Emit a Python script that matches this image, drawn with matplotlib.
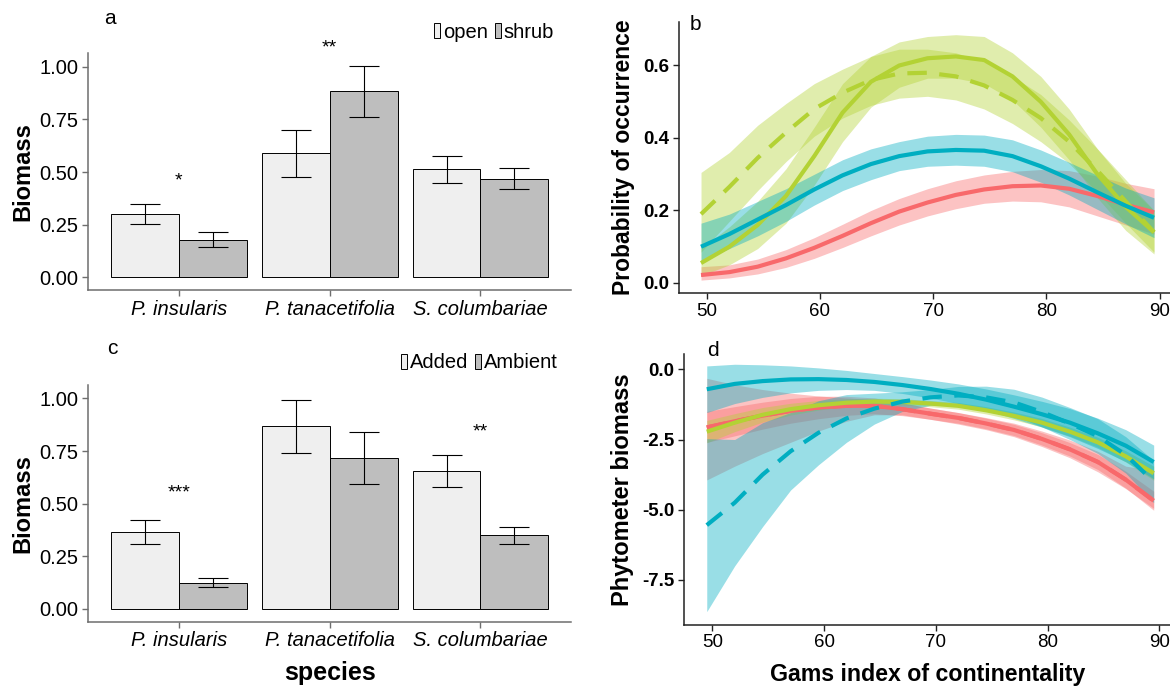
import matplotlib
matplotlib.use("Agg")
import matplotlib.pyplot as plt
from matplotlib.patches import Rectangle

plt.rcParams['font.family'] = ['Liberation Sans', 'DejaVu Sans']
plt.rcParams['lines.scale_dashes'] = False

# ---------------- data: bar panels ----------------
species = ["P. insularis", "P. tanacetifolia", "S. columbariae"]

a_groups = ["open", "shrub"]
a_open = [0.30, 0.59, 0.514]
a_open_lo = [0.255, 0.476, 0.448]
a_open_hi = [0.348, 0.70, 0.576]
a_shrub = [0.178, 0.886, 0.467]
a_shrub_lo = [0.145, 0.763, 0.42]
a_shrub_hi = [0.215, 1.005, 0.519]
a_stars = ["*", "**", ""]
a_star_y = [0.46, 1.09, 0.0]

c_groups = ["Added", "Ambient"]
c_added = [0.366, 0.87, 0.655]
c_added_lo = [0.309, 0.74, 0.578]
c_added_hi = [0.423, 0.995, 0.73]
c_ambient = [0.124, 0.716, 0.35]
c_ambient_lo = [0.105, 0.592, 0.309]
c_ambient_hi = [0.147, 0.84, 0.39]
c_stars = ["***", "", "**"]
c_star_y = [0.55, 0.0, 0.84]

# ---------------- data: curve panels ----------------
gams = [49.5, 52, 54.5, 57, 59.5, 62, 64.5, 67, 69.5, 72, 74.5, 77, 79.5, 82, 84.5, 87, 89.5]

# panel b
b_green = [0.055, 0.10, 0.16, 0.24, 0.35, 0.47, 0.555, 0.60, 0.62, 0.625, 0.615, 0.57, 0.50, 0.41, 0.30, 0.21, 0.14]
b_green_lo = [0.02, 0.05, 0.095, 0.165, 0.27, 0.39, 0.485, 0.54, 0.565, 0.565, 0.55, 0.505, 0.43, 0.34, 0.235, 0.145, 0.08]
b_green_hi = [0.095, 0.155, 0.225, 0.315, 0.43, 0.55, 0.625, 0.665, 0.68, 0.685, 0.68, 0.635, 0.57, 0.48, 0.37, 0.275, 0.20]
b_green_d = [0.19, 0.265, 0.345, 0.415, 0.48, 0.525, 0.56, 0.578, 0.58, 0.57, 0.545, 0.505, 0.455, 0.39, 0.31, 0.225, 0.14]
b_green_d_lo = [0.085, 0.17, 0.255, 0.335, 0.405, 0.455, 0.49, 0.51, 0.515, 0.505, 0.48, 0.44, 0.39, 0.33, 0.25, 0.165, 0.085]
b_green_d_hi = [0.305, 0.36, 0.435, 0.495, 0.55, 0.59, 0.625, 0.645, 0.645, 0.635, 0.61, 0.57, 0.52, 0.45, 0.37, 0.285, 0.20]
b_teal = [0.10, 0.135, 0.175, 0.215, 0.258, 0.297, 0.328, 0.35, 0.363, 0.367, 0.365, 0.35, 0.322, 0.288, 0.25, 0.213, 0.18]
b_teal_lo = [0.06, 0.095, 0.13, 0.17, 0.215, 0.255, 0.285, 0.31, 0.322, 0.325, 0.322, 0.307, 0.278, 0.243, 0.203, 0.163, 0.125]
b_teal_hi = [0.165, 0.19, 0.225, 0.26, 0.30, 0.34, 0.37, 0.39, 0.405, 0.41, 0.408, 0.395, 0.367, 0.333, 0.297, 0.262, 0.235]
b_red = [0.022, 0.03, 0.045, 0.068, 0.097, 0.13, 0.165, 0.197, 0.222, 0.243, 0.258, 0.267, 0.269, 0.26, 0.24, 0.216, 0.195]
b_red_lo = [0.008, 0.014, 0.025, 0.043, 0.068, 0.098, 0.13, 0.16, 0.185, 0.205, 0.22, 0.226, 0.224, 0.21, 0.185, 0.16, 0.135]
b_red_hi = [0.045, 0.05, 0.066, 0.092, 0.125, 0.162, 0.20, 0.233, 0.26, 0.282, 0.298, 0.308, 0.313, 0.31, 0.295, 0.275, 0.26]

# panel d
d_teal = [-0.71, -0.52, -0.42, -0.36, -0.35, -0.38, -0.45, -0.56, -0.70, -0.87, -1.08, -1.33, -1.60, -1.90, -2.28, -2.72, -3.30]
d_teal_lo = [-1.54, -1.22, -1.0, -0.84, -0.75, -0.72, -0.75, -0.86, -1.02, -1.22, -1.46, -1.75, -2.06, -2.40, -2.82, -3.29, -3.90]
d_teal_hi = [0.12, 0.18, 0.16, 0.12, 0.05, -0.04, -0.15, -0.26, -0.38, -0.52, -0.70, -0.91, -1.14, -1.40, -1.74, -2.15, -2.70]
d_teal_d = [-5.55, -4.75, -3.75, -2.92, -2.26, -1.75, -1.40, -1.15, -1.00, -0.93, -1.00, -1.18, -1.52, -1.93, -2.38, -3.05, -4.00]
d_teal_d_lo = [-8.63, -7.0, -5.6, -4.3, -3.4, -2.6, -1.95, -1.5, -1.28, -1.25, -1.4, -1.65, -2.05, -2.5, -3.0, -3.7, -4.75]
d_teal_d_hi = [-2.47, -2.5, -1.9, -1.54, -1.12, -0.9, -0.85, -0.8, -0.72, -0.61, -0.6, -0.71, -0.99, -1.36, -1.76, -2.4, -3.25]
d_red = [-2.07, -1.85, -1.65, -1.48, -1.36, -1.30, -1.30, -1.42, -1.58, -1.73, -1.93, -2.16, -2.48, -2.85, -3.30, -3.93, -4.68]
d_red_lo = [-2.6, -2.37, -2.13, -1.92, -1.76, -1.64, -1.58, -1.65, -1.78, -1.92, -2.12, -2.36, -2.70, -3.09, -3.57, -4.23, -5.02]
d_red_hi = [-1.5, -1.33, -1.17, -1.04, -0.96, -0.96, -1.02, -1.19, -1.38, -1.54, -1.74, -1.96, -2.26, -2.61, -3.03, -3.63, -4.34]
d_red_d = [-2.07, -1.85, -1.65, -1.48, -1.36, -1.30, -1.30, -1.42, -1.58, -1.73, -1.93, -2.16, -2.48, -2.85, -3.30, -3.93, -4.68]
d_red_d_lo = [-3.94, -3.45, -3.0, -2.6, -2.2, -1.85, -1.62, -1.62, -1.78, -1.95, -2.15, -2.4, -2.75, -3.15, -3.65, -4.25, -4.95]
d_red_d_hi = [-0.32, -0.55, -0.72, -0.85, -0.95, -1.02, -1.08, -1.2, -1.38, -1.54, -1.72, -1.92, -2.2, -2.52, -2.92, -3.45, -3.6]
d_green = [-2.22, -1.90, -1.62, -1.42, -1.28, -1.19, -1.15, -1.16, -1.22, -1.30, -1.46, -1.66, -1.90, -2.22, -2.60, -3.10, -3.70]
d_green_lo = [-2.62, -2.22, -1.88, -1.63, -1.45, -1.33, -1.27, -1.27, -1.33, -1.42, -1.59, -1.80, -2.05, -2.38, -2.78, -3.30, -3.95]
d_green_hi = [-1.82, -1.58, -1.36, -1.21, -1.11, -1.05, -1.03, -1.05, -1.11, -1.18, -1.33, -1.52, -1.75, -2.06, -2.42, -2.90, -3.45]

RED = "#F8696B"
GREEN = "#B3D234"
TEAL = "#00AEC1"
LIGHT = "#EFEFEF"
DARK = "#BEBEBE"

W, H = 1170, 687
fig = plt.figure(figsize=(W / 100, H / 100), dpi=100)


def px_axes(left, top, right, bottom):
    return fig.add_axes([left / W, 1 - bottom / H, (right - left) / W, (bottom - top) / H])


def style_axes(ax, color):
    for s in ("top", "right"):
        ax.spines[s].set_visible(False)
    for s in ("left", "bottom"):
        ax.spines[s].set_color(color)
        ax.spines[s].set_linewidth(1.1)
    ax.tick_params(axis="both", colors=color, length=4, width=1.0, pad=3)


def bar_panel(ax, v1, lo1, hi1, v2, lo2, hi2, stars, star_y, labels, legend_xy):
    x = list(range(1, len(species) + 1))
    bw = 0.45
    x1 = [i - bw / 2 for i in x]
    x2 = [i + bw / 2 for i in x]
    ax.bar(x1, v1, width=bw, color=LIGHT, edgecolor="black", linewidth=0.7, zorder=2)
    ax.bar(x2, v2, width=bw, color=DARK, edgecolor="black", linewidth=0.7, zorder=2)
    e1 = [[v - l for v, l in zip(v1, lo1)], [h - v for v, h in zip(v1, hi1)]]
    e2 = [[v - l for v, l in zip(v2, lo2)], [h - v for v, h in zip(v2, hi2)]]
    ax.errorbar(x1, v1, yerr=e1, fmt="none", ecolor="black", elinewidth=0.8, capsize=11, capthick=0.8, zorder=3)
    ax.errorbar(x2, v2, yerr=e2, fmt="none", ecolor="black", elinewidth=0.8, capsize=11, capthick=0.8, zorder=3)
    for xi, s, sy in zip(x, stars, star_y):
        if s:
            ax.text(xi, sy, s, ha="center", va="center", fontsize=14, clip_on=False)
    ax.set_xlim(0.4, 3.6)
    ax.set_ylim(-0.06, 1.064)
    ax.set_xticks(x)
    ax.set_xticklabels(species, fontsize=14.5, style="italic")
    ax.set_yticks([0, 0.25, 0.5, 0.75, 1.0])
    ax.set_yticklabels(["0.00", "0.25", "0.50", "0.75", "1.00"], fontsize=14.5)
    ax.set_ylabel("Biomass", fontsize=17, fontweight="bold", labelpad=4)
    style_axes(ax, "#6E6E6E")
    for t in ax.get_xticklabels() + ax.get_yticklabels():
        t.set_color("black")
    handles = [Rectangle((0, 0), 1, 1, fc=LIGHT, ec="black", lw=0.7),
               Rectangle((0, 0), 1, 1, fc=DARK, ec="black", lw=0.7)]
    fig.legend(handles, labels, loc="center right", bbox_to_anchor=legend_xy,
               bbox_transform=fig.transFigure, ncol=2, frameon=False, fontsize=14.5,
               handlelength=0.3, handleheight=0.75, handletextpad=0.15, columnspacing=0.35,
               borderpad=0, borderaxespad=0)


# ---- panel a ----
ax_a = px_axes(88.3, 53.3, 571, 290)
bar_panel(ax_a, a_open, a_open_lo, a_open_hi, a_shrub, a_shrub_lo, a_shrub_hi,
          a_stars, a_star_y, a_groups, (554 / W, 1 - 32 / H))
fig.text(104 / W, 1 - 18 / H, "a", fontsize=15, ha="left", va="center")

# ---- panel c ----
ax_c = px_axes(88.3, 385, 571, 621.5)
bar_panel(ax_c, c_added, c_added_lo, c_added_hi, c_ambient, c_ambient_lo, c_ambient_hi,
          c_stars, c_star_y, c_groups, (558 / W, 1 - 363 / H))
ax_c.set_xlabel("species", fontsize=18, fontweight="bold", labelpad=8)
fig.text(107 / W, 1 - 348 / H, "c", fontsize=15, ha="left", va="center")

LW = 3.0
DASH = (14, 9)

# ---- panel b ----
ax_b = px_axes(678.7, 22, 1170, 293)
ax_b.fill_between(gams, b_red_lo, b_red_hi, color=RED, alpha=0.4, lw=0)
ax_b.fill_between(gams, b_green_lo, b_green_hi, color=GREEN, alpha=0.4, lw=0)
ax_b.fill_between(gams, b_green_d_lo, b_green_d_hi, color=GREEN, alpha=0.4, lw=0)
ax_b.fill_between(gams, b_teal_lo, b_teal_hi, color=TEAL, alpha=0.4, lw=0)
ax_b.plot(gams, b_red, color=RED, lw=LW, solid_capstyle="butt")
ax_b.plot(gams, b_green, color=GREEN, lw=LW, solid_capstyle="butt")
ax_b.plot(gams, b_green_d, color=GREEN, lw=LW, dashes=DASH)
ax_b.plot(gams, b_teal, color=TEAL, lw=LW, solid_capstyle="butt")
ax_b.set_xlim(47.53, 90.91)
ax_b.set_ylim(-0.0276, 0.72)
ax_b.set_xticks([50, 60, 70, 80, 90])
ax_b.set_yticks([0.0, 0.2, 0.4, 0.6])
ax_b.set_yticklabels(["0.0", "0.2", "0.4", "0.6"], fontsize=13.5, fontweight="bold")
ax_b.set_xticklabels(["50", "60", "70", "80", "90"], fontsize=13.5)
ax_b.set_ylabel("Probability of occurrence", fontsize=16.5, fontweight="bold", labelpad=6)
style_axes(ax_b, "#222222")
for t in ax_b.get_xticklabels() + ax_b.get_yticklabels():
    t.set_color("black")
fig.text(690 / W, 1 - 24 / H, "b", fontsize=15, ha="left", va="center")

# ---- panel d ----
ax_d = px_axes(684.3, 354, 1170, 624.7)
ax_d.fill_between(gams, d_red_d_lo, d_red_d_hi, color=RED, alpha=0.4, lw=0)
ax_d.fill_between(gams, d_red_lo, d_red_hi, color=RED, alpha=0.4, lw=0)
ax_d.fill_between(gams, d_green_lo, d_green_hi, color=GREEN, alpha=0.4, lw=0)
ax_d.fill_between(gams, d_teal_d_lo, d_teal_d_hi, color=TEAL, alpha=0.4, lw=0)
ax_d.fill_between(gams, d_teal_lo, d_teal_hi, color=TEAL, alpha=0.4, lw=0)
ax_d.plot(gams, d_red_d, color=RED, lw=LW, dashes=DASH)
ax_d.plot(gams, d_red, color=RED, lw=LW, solid_capstyle="butt")
ax_d.plot(gams, d_green, color=GREEN, lw=LW, solid_capstyle="butt")
ax_d.plot(gams, d_teal_d, color=TEAL, lw=LW, dashes=DASH)
ax_d.plot(gams, d_teal, color=TEAL, lw=LW, solid_capstyle="butt")
ax_d.set_xlim(47.49, 90.96)
ax_d.set_ylim(-9.095, 0.545)
ax_d.set_xticks([50, 60, 70, 80, 90])
ax_d.set_yticks([0.0, -2.5, -5.0, -7.5])
ax_d.set_yticklabels(["0.0", "-2.5", "-5.0", "-7.5"], fontsize=13.5, fontweight="bold")
ax_d.set_xticklabels(["50", "60", "70", "80", "90"], fontsize=13.5)
ax_d.set_ylabel("Phytometer biomass", fontsize=17, fontweight="bold", labelpad=6)
ax_d.set_xlabel("Gams index of continentality", fontsize=16.7, fontweight="bold", labelpad=8)
style_axes(ax_d, "#222222")
for t in ax_d.get_xticklabels() + ax_d.get_yticklabels():
    t.set_color("black")
fig.text(707 / W, 1 - 351 / H, "d", fontsize=15, ha="left", va="center")

fig.savefig("out.png", dpi=100)
